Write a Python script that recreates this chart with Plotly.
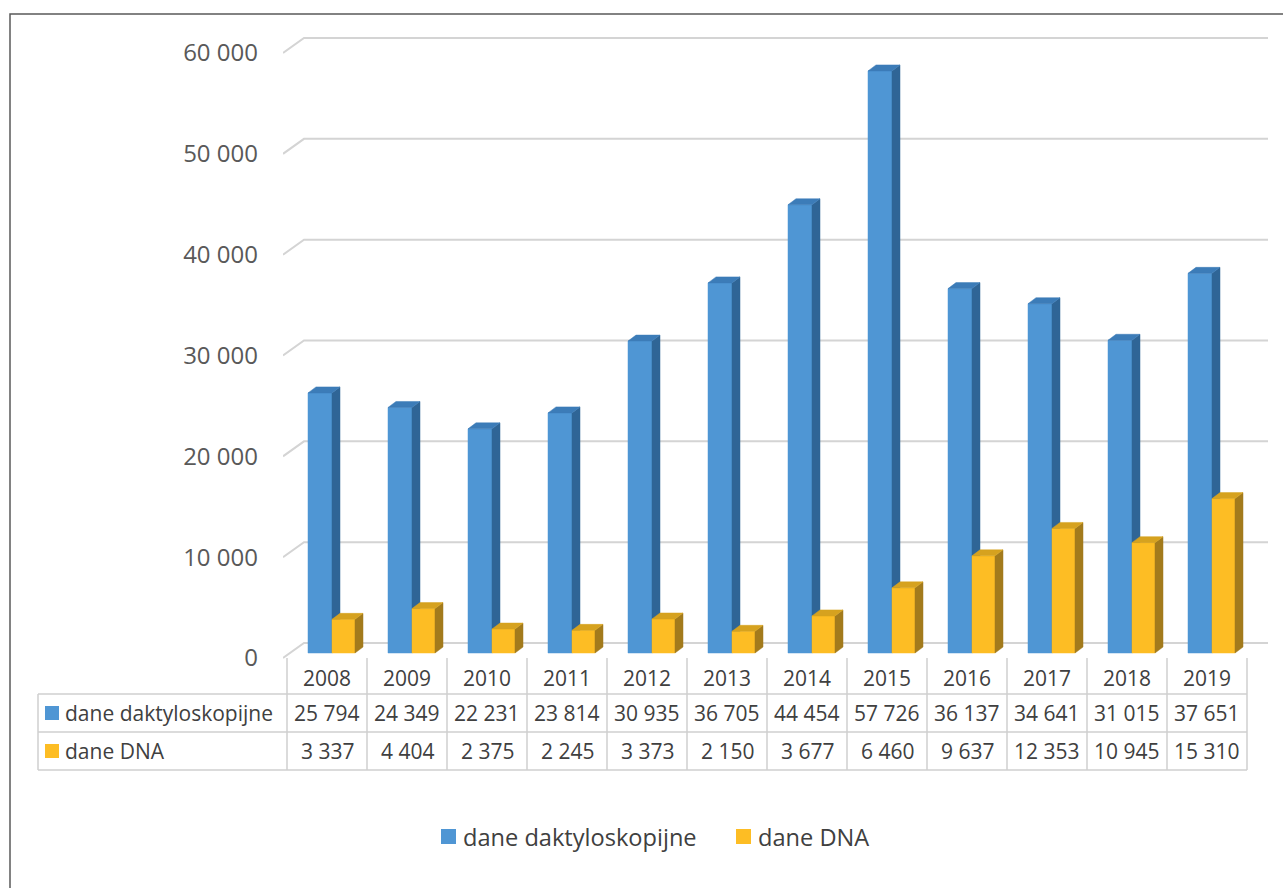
import plotly.graph_objects as go

# ---------------- data ----------------
years = ["2008", "2009", "2010", "2011", "2012", "2013", "2014", "2015", "2016", "2017", "2018", "2019"]
dane_dakty = [25794, 24349, 22231, 23814, 30935, 36705, 44454, 57726, 36137, 34641, 31015, 37651]
dane_dna = [3337, 4404, 2375, 2245, 3373, 2150, 3677, 6460, 9637, 12353, 10945, 15310]
series_names = ["dane daktyloskopijne", "dane DNA"]
y_ticks = [0, 10000, 20000, 30000, 40000, 50000, 60000]

# ---------------- geometry / style ----------------
W, H = 1283, 888
L, R, T, B = 283, 1268, 28, 660          # plot area in px
COL_W = 80                                # px per category
X0_PX = 327                               # px centre of first category
PXX = 1.0 / COL_W                         # x units per px
PXY = 60000 / 605.0                       # y units per px
FONT = "Open Sans"
TXT = "#404040"
GRID = "#d4d4d4"

BLUE = dict(front="#4f96d4", side="#2f6596", top="#3c7cb8")
GOLD = dict(front="#fdbd24", side="#a37b1c", top="#d6a21f")


def fx(px):
    return (px - L) / (R - L)


def fy(py):
    return (B - py) / (B - T)


def col_px(k):
    return X0_PX + COL_W * k


fig = go.Figure()

# back-wall gridlines with the diagonal floor/side edge
GDX, GDY = 21, 15
x_left = (L - X0_PX) * PXX
x_right = (R - X0_PX) * PXX
gx, gy = [], []
for v in y_ticks:
    gx += [x_left, x_left + GDX * PXX, x_right, None]
    gy += [v, v + GDY * PXY, v + GDY * PXY, None]
fig.add_trace(go.Scatter(x=gx, y=gy, mode="lines", line=dict(color=GRID, width=2),
                         hoverinfo="skip", showlegend=False))

# 3D-looking bars
BASE = 5 * PXY
DX, DY = 8 * PXX, 6 * PXY


def add_bars(values, off0, off1, colors, name):
    fxs, fys, sxs, sys_, txs, tys = [], [], [], [], [], []
    for i, v in enumerate(values):
        a = i + off0 * PXX
        b = i + off1 * PXX
        top = BASE + v
        fxs += [a, b, b, a, a, None]
        fys += [BASE, BASE, top, top, BASE, None]
        sxs += [b, b + DX, b + DX, b, b, None]
        sys_ += [BASE, BASE + DY, top + DY, top, BASE, None]
        txs += [a, b, b + DX, a + DX, a, None]
        tys += [top, top, top + DY, top + DY, top, None]
    for xs, ys, c in ((fxs, fys, colors["front"]), (sxs, sys_, colors["side"]), (txs, tys, colors["top"])):
        fig.add_trace(go.Scatter(x=xs, y=ys, mode="lines", fill="toself", fillcolor=c,
                                 line=dict(color=c, width=0.5), hoverinfo="skip",
                                 showlegend=False, name=name))


add_bars(dane_dakty, -19, 5, BLUE, series_names[0])
add_bars(dane_dna, 5, 28, GOLD, series_names[1])

shapes = []
annotations = []

# ---------------- data table ----------------
TLINE = dict(color="#cfcfcf", width=1.5)
tbl_top, row1, row2, row3 = 658, 694, 732, 770
tbl_left = 38
right_px = col_px(11.5)
for k in range(13):
    xp = col_px(k - 0.5)
    shapes.append(dict(type="line", xref="paper", yref="paper", x0=fx(xp), x1=fx(xp),
                       y0=fy(tbl_top), y1=fy(row3), line=TLINE))
shapes.append(dict(type="line", xref="paper", yref="paper", x0=fx(tbl_left), x1=fx(tbl_left),
                   y0=fy(row1), y1=fy(row3), line=TLINE))
for yp in (row1, row2, row3):
    shapes.append(dict(type="line", xref="paper", yref="paper", x0=fx(tbl_left), x1=fx(right_px),
                       y0=fy(yp), y1=fy(yp), line=TLINE))

TF = dict(family=FONT, size=21, color=TXT)
for i, yr in enumerate(years):
    annotations.append(dict(x=i, xref="x", y=fy(678), yref="paper", text=yr, showarrow=False,
                            xanchor="center", yanchor="middle", font=TF))
    annotations.append(dict(x=i, xref="x", y=fy(713), yref="paper",
                            text=f"{dane_dakty[i]:,}".replace(",", " "), showarrow=False,
                            xanchor="center", yanchor="middle", font=TF))
    annotations.append(dict(x=i, xref="x", y=fy(751), yref="paper",
                            text=f"{dane_dna[i]:,}".replace(",", " "), showarrow=False,
                            xanchor="center", yanchor="middle", font=TF))

for (yc, col, name) in ((713, BLUE["front"], series_names[0]), (751, GOLD["front"], series_names[1])):
    shapes.append(dict(type="rect", xref="paper", yref="paper", x0=fx(45), x1=fx(59),
                       y0=fy(yc - 7), y1=fy(yc + 7), line=dict(width=0), fillcolor=col))
    annotations.append(dict(x=fx(63), xref="paper", y=fy(yc), yref="paper", text=name,
                            showarrow=False, xanchor="left", yanchor="middle", font=TF))

# ---------------- bottom legend ----------------
LF = dict(family=FONT, size=23.6, color=TXT)
for (xs, col, name) in ((441, BLUE["front"], series_names[0]), (736, GOLD["front"], series_names[1])):
    shapes.append(dict(type="rect", xref="paper", yref="paper", x0=fx(xs), x1=fx(xs + 15),
                       y0=fy(844), y1=fy(829), line=dict(width=0), fillcolor=col))
    annotations.append(dict(x=fx(xs + 20), xref="paper", y=fy(837), yref="paper", text=name,
                            showarrow=False, xanchor="left", yanchor="middle", font=LF))

# outer frame
shapes.append(dict(type="rect", xref="paper", yref="paper", x0=fx(10), x1=fx(1300),
                   y0=fy(14), y1=fy(905), line=dict(color="#5a5a5a", width=1.5),
                   fillcolor="rgba(0,0,0,0)", layer="below"))

fig.update_layout(
    width=W, height=H,
    margin=dict(l=L, r=W - R, t=T, b=H - B, pad=0),
    paper_bgcolor="white", plot_bgcolor="white",
    separators=", ",
    showlegend=False,
    shapes=shapes, annotations=annotations,
    xaxis=dict(range=[x_left, x_right], visible=False, fixedrange=True),
    yaxis=dict(range=[-2 * PXY, (B - T - 2) * PXY], tickvals=y_ticks, tickformat=",d",
               showgrid=False, zeroline=False, showline=False, ticks="",
               ticklabelstandoff=24,
               tickfont=dict(family=FONT, size=24, color="#595959"), fixedrange=True),
    font=dict(family=FONT),
)

fig.write_html("out.html")
